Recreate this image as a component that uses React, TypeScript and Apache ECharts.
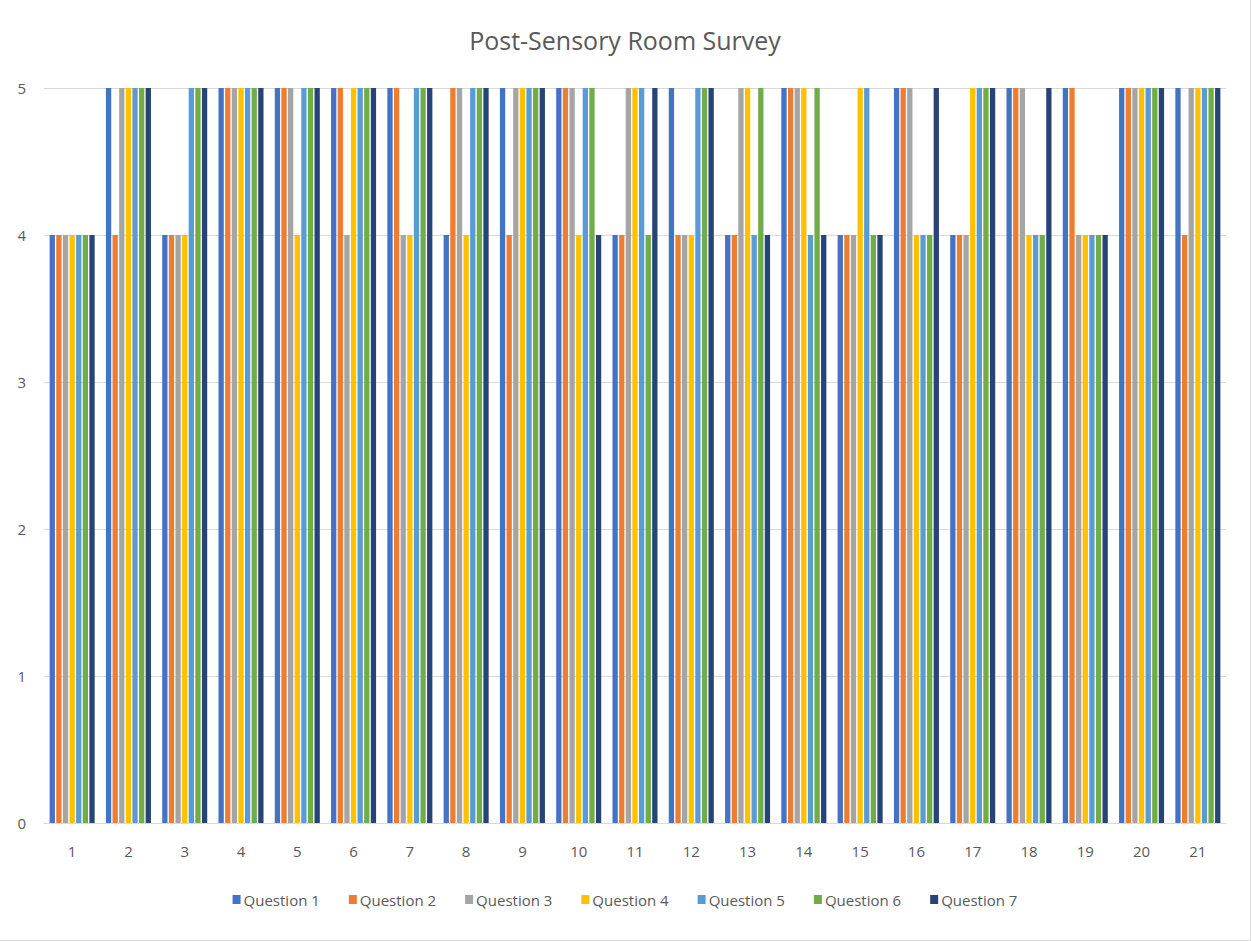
import React, { useEffect, useRef } from "react";
import * as echarts from "echarts";

const categories = ["1","2","3","4","5","6","7","8","9","10","11","12","13","14","15","16","17","18","19","20","21"];
const seriesNames = ["Question 1","Question 2","Question 3","Question 4","Question 5","Question 6","Question 7"];
const colors = ["#4472C4","#ED7D31","#A5A5A5","#FFC000","#5B9BD5","#70AD47","#264478"];

const q1 = [4,5,4,5,5,5,5,4,5,5,4,5,4,5,4,5,4,5,5,5,5];
const q2 = [4,4,4,5,5,5,5,5,4,5,4,4,4,5,4,5,4,5,5,5,4];
const q3 = [4,5,4,5,5,4,4,5,5,5,5,4,5,5,4,5,4,5,4,5,5];
const q4 = [4,5,4,5,4,5,4,4,5,4,5,4,5,5,5,4,5,4,4,5,5];
const q5 = [4,5,5,5,5,5,5,5,5,5,5,5,4,4,5,4,5,4,4,5,5];
const q6 = [4,5,5,5,5,5,5,5,5,5,4,5,5,5,4,4,5,4,4,5,5];
const q7 = [4,5,5,5,5,5,5,5,5,4,5,5,4,4,4,5,5,5,4,5,5];
const yTicks = [0,1,2,3,4,5];

const FONT = "'Open Sans', sans-serif";

export default function App() {
  const ref = useRef<HTMLDivElement>(null);
  useEffect(() => {
    document.body.style.margin = "0";
    const chart = echarts.init(ref.current!, undefined, { renderer: "svg" });
    const data = [q1,q2,q3,q4,q5,q6,q7];
    chart.setOption({
      animation: false,
      backgroundColor: "#ffffff",
      title: {
        text: "Post-Sensory Room Survey",
        left: "center",
        top: 22,
        textStyle: { fontFamily: FONT, fontSize: 25, fontWeight: "normal", color: "#595959" },
      },
      legend: {
        data: seriesNames,
        bottom: 28,
        left: "center",
        itemWidth: 8,
        itemHeight: 9,
        itemGap: 29,
        icon: "rect",
        textStyle: { fontFamily: FONT, fontSize: 15, color: "#595959", padding: [0, 0, 0, -2] },
      },
      grid: { left: 44, right: 24, top: 88, bottom: 117 },
      xAxis: {
        type: "category",
        data: categories,
        axisLine: { lineStyle: { color: "#d9d9d9" } },
        axisTick: { show: false },
        axisLabel: { fontFamily: FONT, fontSize: 15, color: "#595959", margin: 20 },
      },
      yAxis: {
        type: "value",
        min: yTicks[0],
        max: yTicks[yTicks.length - 1],
        interval: 1,
        axisLine: { show: false },
        axisTick: { show: false },
        splitLine: { lineStyle: { color: "#d9d9d9" } },
        axisLabel: { fontFamily: FONT, fontSize: 15, color: "#595959", margin: 18 },
      },
      series: seriesNames.map((name, i) => ({
        name,
        type: "bar",
        data: data[i],
        itemStyle: { color: colors[i] },
        barGap: "25%",
        barCategoryGap: "20%",
      })),
    });
    return () => chart.dispose();
  }, []);
  return (
    <div
      ref={ref}
      style={{
        position: "absolute",
        left: 0,
        top: 0,
        width: 1251,
        height: 941,
        boxSizing: "border-box",
        borderRight: "1px solid #d9d9d9",
        borderBottom: "1px solid #d9d9d9",
      }}
    />
  );
}
